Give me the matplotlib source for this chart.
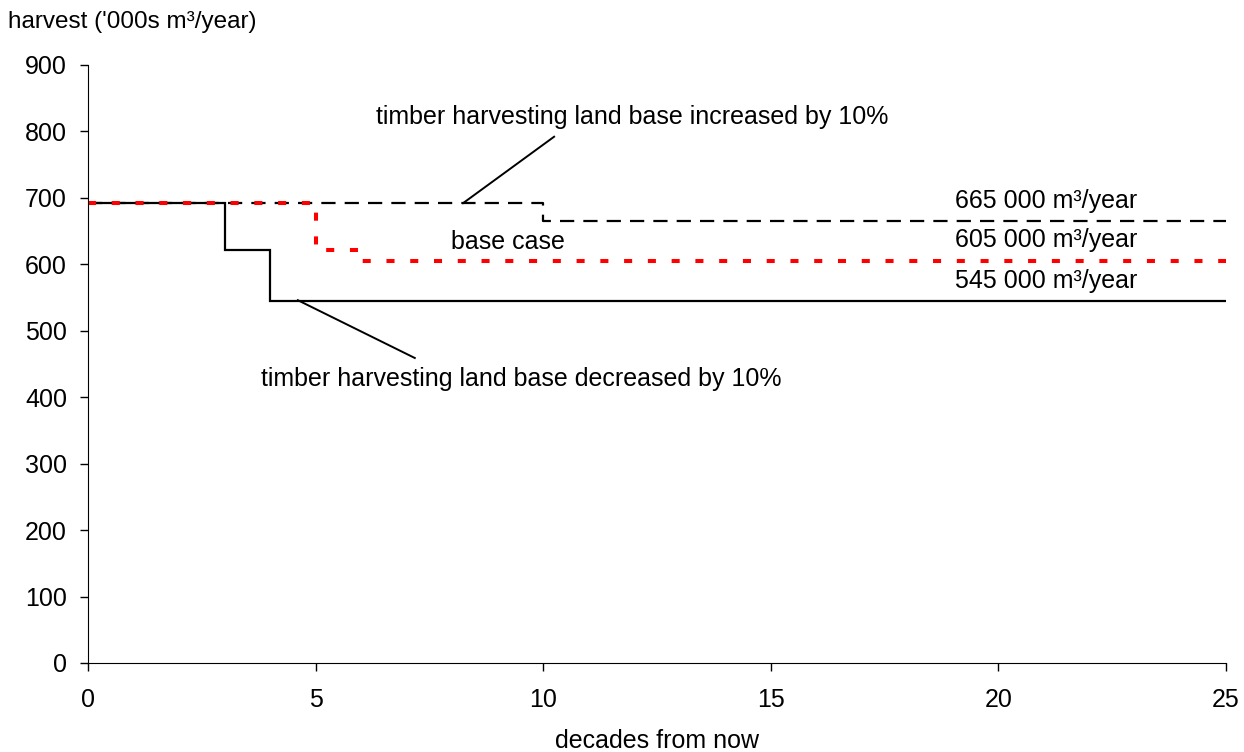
import matplotlib.pyplot as plt

plt.rcParams['font.family'] = ['Liberation Sans', 'DejaVu Sans']

# step values: harvest level held until the decade given in *_x
inc_x = [0, 10, 10, 25]
inc_y = [692, 692, 665, 665]
base_x = [0, 5, 5, 6, 6, 25]
base_y = [692, 692, 622, 622, 605, 605]
dec_x = [0, 3, 3, 4, 4, 25]
dec_y = [692, 692, 622, 622, 545, 545]

fig = plt.figure(figsize=(12.44, 7.52), dpi=100)
ax = fig.add_axes([0.0707, 0.1184, 0.9148, 0.7952])

ax.plot(dec_x, dec_y, color='black', lw=1.6, solid_joinstyle='miter')
ax.plot(inc_x, inc_y, color='black', lw=1.6, linestyle=(0, (6.4, 4.1)))
ax.plot(base_x, base_y, color='red', lw=2.9, linestyle=(0, (2.0, 3.9)),
        dash_capstyle='butt')

fs = 18
ax.text(11.95, 822, 'timber harvesting land base increased by 10%', fontsize=fs,
        ha='center', va='center')
ax.plot([10.24, 8.24], [792, 692], color='black', lw=1.4)
ax.text(9.51, 427, 'timber harvesting land base decreased by 10%', fontsize=fs,
        ha='center', va='center')
ax.plot([7.18, 4.61], [459, 546], color='black', lw=1.4)
ax.text(9.23, 634, 'base case', fontsize=fs, ha='center', va='center')
ax.text(21.05, 695, '665 000 m³/year', fontsize=fs, ha='center', va='center')
ax.text(21.05, 637, '605 000 m³/year', fontsize=fs, ha='center', va='center')
ax.text(21.05, 575, '545 000 m³/year', fontsize=fs, ha='center', va='center')

ax.set_xlim(0, 25)
ax.set_ylim(0, 900)
ax.set_xticks(range(0, 26, 5))
ax.set_yticks(range(0, 901, 100))
for s in ['top', 'right']:
    ax.spines[s].set_visible(False)
ax.tick_params(axis='both', direction='out', length=6, width=1, labelsize=fs)
ax.tick_params(axis='y', pad=9)
ax.tick_params(axis='x', pad=12)

fig.text(8 / 1244, 1 - 22 / 752, "harvest ('000s m³/year)", fontsize=17.5, ha='left', va='center')
fig.text(657 / 1244, 1 - 741 / 752, 'decades from now', fontsize=fs, ha='center', va='center')

fig.savefig('out.png', dpi=100)
